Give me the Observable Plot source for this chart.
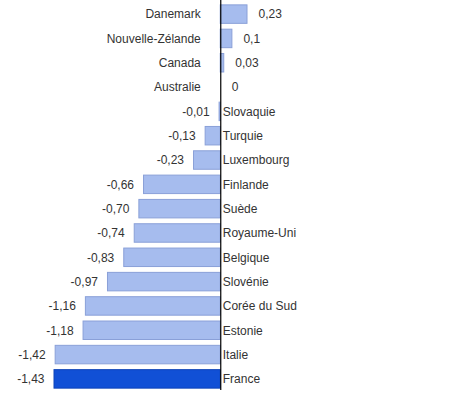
<!DOCTYPE html>
<html>
<head>
<meta charset="utf-8">
<script src="https://cdn.jsdelivr.net/npm/d3@7"></script>
<script src="https://cdn.jsdelivr.net/npm/@observablehq/plot@0.6"></script>
<style>
  html, body { margin: 0; padding: 0; background: #fff; }
  #chart svg { display: block; }
</style>
</head>
<body>
<div id="chart"></div>
<script>
const countries = ["Danemark", "Nouvelle-Zélande", "Canada", "Australie", "Slovaquie", "Turquie", "Luxembourg", "Finlande", "Suède", "Royaume-Uni", "Belgique", "Slovénie", "Corée du Sud", "Estonie", "Italie", "France"];
const values = [0.23, 0.1, 0.03, 0, -0.01, -0.13, -0.23, -0.66, -0.70, -0.74, -0.83, -0.97, -1.16, -1.18, -1.42, -1.43];
const valueLabels = ["0,23", "0,1", "0,03", "0", "-0,01", "-0,13", "-0,23", "-0,66", "-0,70", "-0,74", "-0,83", "-0,97", "-1,16", "-1,18", "-1,42", "-1,43"];
const highlight = "France";

const data = countries.map((c, i) => ({country: c, value: values[i], label: valueLabels[i], hi: c === highlight}));
const pos = data.filter(d => d.value >= 0);
const neg = data.filter(d => d.value < 0);

const chart = Plot.plot({
  width: 451,
  height: 394,
  marginLeft: 54,
  marginRight: 204,
  marginTop: 0,
  marginBottom: 1,
  style: {fontFamily: "'Liberation Sans', Arial, sans-serif", fontSize: "12px", color: "#333"},
  x: {domain: [-1.43, 0.23], axis: null},
  y: {domain: countries, axis: null, paddingInner: 0.24, paddingOuter: 0.2, round: false},
  marks: [
    Plot.barX(data, {
      y: "country", x: "value",
      fill: d => d.hi ? "#1150d6" : "#a6bcee",
      stroke: d => d.hi ? "#0e44b8" : "#8aa0d8",
      strokeWidth: 1
    }),
    Plot.ruleX([0], {stroke: "#000", strokeWidth: 1.2, insetBottom: 3}),
    Plot.text(pos, {y: "country", x: 0, text: "country", textAnchor: "end", dx: -20, fill: "#333", fontSize: 12}),
    Plot.text(pos, {y: "country", x: "value", text: "label", textAnchor: "start", dx: 11, fill: "#333", fontSize: 12}),
    Plot.text(neg, {y: "country", x: 0, text: "country", textAnchor: "start", dx: 2, fill: "#333", fontSize: 12}),
    Plot.text(neg, {y: "country", x: "value", text: "label", textAnchor: "end", dx: -10, fill: "#333", fontSize: 12})
  ]
});
document.getElementById("chart").appendChild(chart);
</script>
</body>
</html>
